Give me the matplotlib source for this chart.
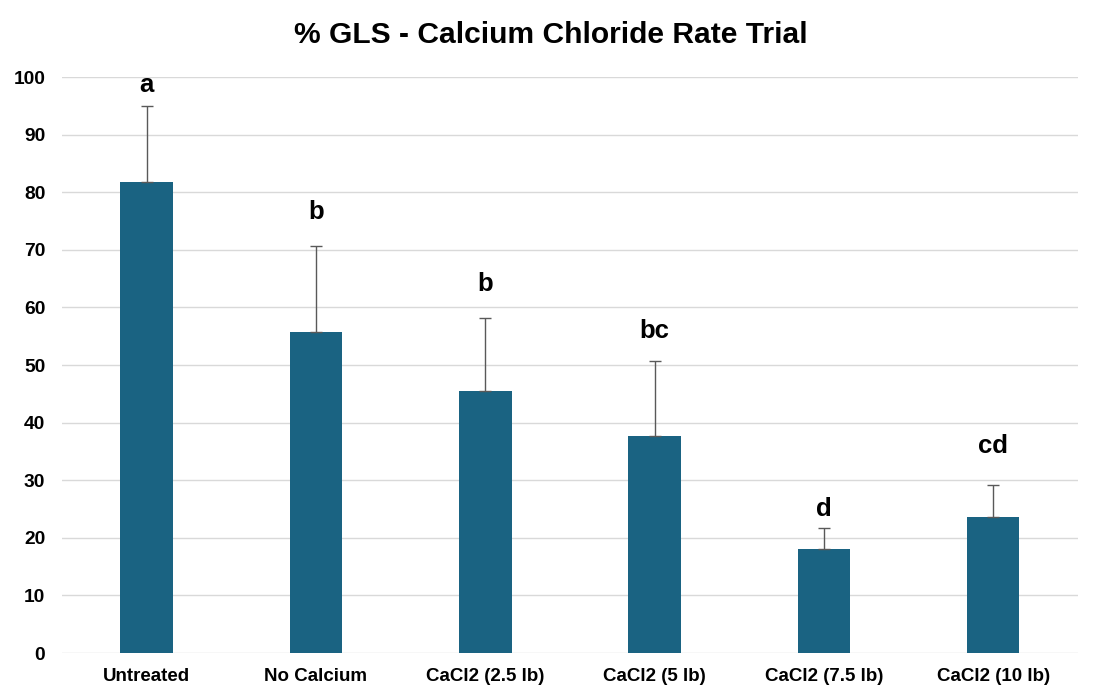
import matplotlib
matplotlib.use("Agg")
import matplotlib.pyplot as plt

categories = ["Untreated", "No Calcium", "CaCl2 (2.5 lb)", "CaCl2 (5 lb)", "CaCl2 (7.5 lb)", "CaCl2 (10 lb)"]
values = [81.8, 55.8, 45.5, 37.7, 18.1, 23.7]
errors = [13.2, 14.8, 12.6, 13.0, 3.6, 5.5]
letters = ["a", "b", "b", "bc", "d", "cd"]
letter_y = [98.6, 76.6, 64.1, 55.9, 25.0, 35.9]
yticks = list(range(0, 101, 10))

plt.rcParams['font.family'] = ['Liberation Sans', 'DejaVu Sans']

fig = plt.figure(figsize=(11.01, 7.0), dpi=100)
ax = fig.add_axes([0.0563, 0.0671, 0.9227, 0.8229])

x = list(range(len(categories)))
ax.bar(x, values, width=0.31, color="#1A6382", zorder=3)
ax.errorbar(x, values, yerr=[[0]*len(errors), errors], fmt="none", ecolor="#595959",
            elinewidth=1.0, capsize=4, capthick=1.0, zorder=4)
for xi, lab, ly in zip(x, letters, letter_y):
    ax.text(xi, ly, lab, ha="center", va="center", fontsize=18.5, fontweight="bold", color="black")

ax.set_xlim(-0.5, len(categories) - 0.5)
ax.set_ylim(0, 100)
ax.set_yticks(yticks)
ax.set_xticks(x)
ax.set_xticklabels(categories, fontsize=13.5, fontweight="bold")
for t in ax.get_yticklabels():
    t.set_fontsize(13.8)
    t.set_fontweight("bold")
ax.tick_params(axis="x", length=0, pad=11)
ax.tick_params(axis="y", length=0, pad=12)
ax.grid(axis="y", color="#D9D9D9", linewidth=1.0, zorder=0)
ax.set_axisbelow(True)
for s in ax.spines.values():
    s.set_visible(False)

fig.text(0.5, 1 - 35 / 700, "% GLS - Calcium Chloride Rate Trial", ha="center", va="center",
         fontsize=21.6, fontweight="bold")
fig.savefig("out.png", dpi=100)
